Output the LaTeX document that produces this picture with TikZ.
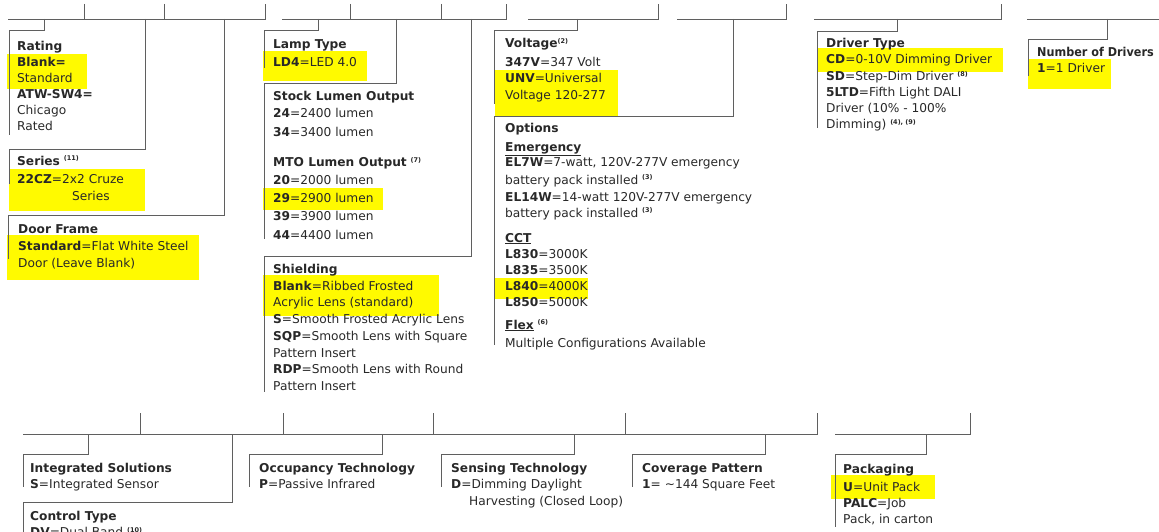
\documentclass[tikz,border=0pt]{standalone}
\usepackage{fontspec}
\setmainfont{DejaVu Sans}
\definecolor{hl}{RGB}{255,250,0}
\definecolor{ln}{RGB}{95,95,95}
\definecolor{tx}{RGB}{40,40,40}
\newcommand\sups[1]{\raisebox{0.6ex}{\fontsize{6.5}{7}\selectfont\bfseries #1}}
\newcommand\mkl[4]{\node[txt] (#1) at (#2,#3) {#4};}
\begin{document}
\begin{tikzpicture}[x=1pt,y=-1pt,
  txt/.style={anchor=base west,inner sep=0pt,font=\fontsize{12.2}{14}\selectfont,text=tx},
  brk/.style={draw=ln,line width=0.9pt},
  hbox/.style={fill=hl}]
\useasboundingbox (0,0) rectangle (1159,532);
% highlights
\fill[hbox] (7,54) rectangle (87,89);
\fill[hbox] (9,169) rectangle (145,211);
\fill[hbox] (7,235) rectangle (199,280);
\fill[hbox] (263,51) rectangle (367,81);
\fill[hbox] (263,188) rectangle (383,210);
\fill[hbox] (263,275) rectangle (439,316);
\fill[hbox] (495,70) rectangle (618,116);
\fill[hbox] (494,278) rectangle (588,299);
\fill[hbox] (817,48) rectangle (1003,72);
\fill[hbox] (1028,59) rectangle (1111,89);
\fill[hbox] (831,475) rectangle (935,499);
% top bars
\draw[brk] (8,19) -- (265,19) -- (265,4);
\draw[brk] (84,4) -- (84,19);
\draw[brk] (164,4) -- (164,19);
\draw[brk] (282,19) -- (506,19) -- (506,4);
\draw[brk] (350,4) -- (350,19);
\draw[brk] (441,4) -- (441,19);
\draw[brk] (528,19) -- (658,19) -- (658,4);
\draw[brk] (677,19) -- (786,19) -- (786,4);
\draw[brk] (814,19) -- (1001,19) -- (1001,4);
\draw[brk] (1027,19) -- (1160,19);
% top drops
\draw[brk] (44,19) -- (44,30) -- (9,30) -- (9,135);
\draw[brk] (145,19) -- (145,149) -- (9,149) -- (9,184);
\draw[brk] (224,19) -- (224,215) -- (8,215) -- (8,259);
\draw[brk] (318,19) -- (318,30) -- (264,30) -- (264,68);
\draw[brk] (396,19) -- (396,83) -- (264,83) -- (264,239);
\draw[brk] (471,19) -- (471,256) -- (264,256) -- (264,392);
\draw[brk] (577,19) -- (577,30) -- (494,30) -- (494,104);
\draw[brk] (733,19) -- (733,116) -- (494,116) -- (494,345);
\draw[brk] (897,19) -- (897,31) -- (817,31) -- (817,128);
\draw[brk] (1107,19) -- (1107,39) -- (1028,39) -- (1028,76);
% bottom bars
\draw[brk] (23,434) -- (817,434) -- (817,413);
\draw[brk] (140,413) -- (140,434);
\draw[brk] (283,413) -- (283,434);
\draw[brk] (433,413) -- (433,434);
\draw[brk] (625,413) -- (625,434);
\draw[brk] (835,434) -- (970,434) -- (970,413);
% bottom drops
\draw[brk] (88,434) -- (88,454) -- (23,454) -- (23,487);
\draw[brk] (232,434) -- (232,502) -- (23,502) -- (23,540);
\draw[brk] (382,434) -- (382,454) -- (249,454) -- (249,487);
\draw[brk] (574,434) -- (574,454) -- (441,454) -- (441,487);
\draw[brk] (765,434) -- (765,454) -- (632,454) -- (632,487);
\draw[brk] (926,434) -- (926,454) -- (835,454) -- (835,527);
% Rating
\mkl{r1}{17}{51}{\textbf{Rating}}
\mkl{r2}{17}{67}{\textbf{Blank=}}
\mkl{r3}{17}{83}{Standard}
\mkl{r4}{17}{99}{\textbf{ATW-SW4=}}
\mkl{r5}{17}{115}{Chicago}
\mkl{r6}{17}{131}{Rated}
% Series
\mkl{s1}{17}{165}{\textbf{Series} \sups{(11)}}
\mkl{s2}{17}{183}{\textbf{22CZ}=2x2 Cruze}
\mkl{s3}{72}{200}{Series}
% Door
\mkl{d1}{18}{233}{\textbf{Door Frame}}
\mkl{d2}{18}{250}{\textbf{Standard}=Flat White Steel}
\mkl{d3}{18}{267}{Door (Leave Blank)}
% Lamp
\mkl{l1}{273}{49}{\textbf{Lamp Type}}
\mkl{l2}{273}{67}{\textbf{LD4}=LED 4.0}
% Stock / MTO
\mkl{k1}{273}{101}{\textbf{Stock Lumen Output}}
\mkl{k2}{273}{118}{\textbf{24}=2400 lumen}
\mkl{k3}{273}{137}{\textbf{34}=3400 lumen}
\mkl{k4}{273}{167}{\textbf{MTO Lumen Output} \sups{(7)}}
\mkl{k5}{273}{184}{\textbf{20}=2000 lumen}
\mkl{k6}{273}{202}{\textbf{29}=2900 lumen}
\mkl{k7}{273}{220}{\textbf{39}=3900 lumen}
\mkl{k8}{273}{239}{\textbf{44}=4400 lumen}
% Shielding
\mkl{h1}{273}{273}{\textbf{Shielding}}
\mkl{h2}{273}{290}{\textbf{Blank}=Ribbed Frosted}
\mkl{h3}{273}{306}{Acrylic Lens (standard)}
\mkl{h4}{273}{323}{\textbf{S}=Smooth Frosted Acrylic Lens}
\mkl{h5}{273}{340}{\textbf{SQP}=Smooth Lens with Square}
\mkl{h6}{273}{357}{Pattern Insert}
\mkl{h7}{273}{373}{\textbf{RDP}=Smooth Lens with Round}
\mkl{h8}{273}{390}{Pattern Insert}
% Voltage
\mkl{v1}{505}{48}{\textbf{Voltage}\sups{(2)}}
\mkl{v2}{505}{67}{\textbf{347V}=347 Volt}
\mkl{v3}{505}{83}{\textbf{UNV}=Universal}
\mkl{v4}{505}{100}{Voltage 120-277}
% Options
\mkl{o1}{505}{132}{\textbf{Options}}
\mkl{o2}{505}{151}{\underline{\textbf{Emergency}}}
\mkl{o3}{505}{167}{\textbf{EL7W}=7-watt, 120V-277V emergency}
\mkl{o4}{505}{184}{battery pack installed \sups{(3)}}
\mkl{o5}{505}{201}{\textbf{EL14W}=14-watt 120V-277V emergency}
\mkl{o6}{505}{217}{battery pack installed \sups{(3)}}
\mkl{o7}{505}{242}{\underline{\textbf{CCT}}}
\mkl{o8}{505}{258}{\textbf{L830}=3000K}
\mkl{o9}{505}{274}{\textbf{L835}=3500K}
\mkl{o10}{505}{290}{\textbf{L840}=4000K}
\mkl{o11}{505}{306}{\textbf{L850}=5000K}
\mkl{o12}{505}{329}{\underline{\textbf{Flex}} \sups{(6)}}
\mkl{o13}{505}{347}{Multiple Configurations Available}
% Driver
\mkl{t1}{826}{48}{\textbf{Driver Type}}
\mkl{t2}{826}{64}{\textbf{CD}=0-10V Dimming Driver}
\mkl{t3}{826}{81}{\textbf{SD}=Step-Dim Driver \sups{(8)}}
\mkl{t4}{826}{97}{\textbf{5LTD}=Fifth Light DALI}
\mkl{t5}{826}{113}{Driver (10\% - 100\%}
\mkl{t6}{826}{129}{Dimming) \sups{(4), (9)}}
% Number of drivers
\mkl{n1}{1037}{57}{\scalebox{0.92}[1]{\textbf{Number of Drivers}}}
\mkl{n2}{1037}{73}{\textbf{1}=1 Driver}
% Bottom row
\mkl{i1}{30}{472}{\textbf{Integrated Solutions}}
\mkl{i2}{30}{488}{\textbf{S}=Integrated Sensor}
\mkl{c1}{30}{520}{\textbf{Control Type}}
\mkl{c2}{30}{536}{\textbf{DV}=Dual Band \sups{(10)}}
\mkl{p1}{259}{472}{\textbf{Occupancy Technology}}
\mkl{p2}{259}{488}{\textbf{P}=Passive Infrared}
\mkl{e1}{451}{472}{\textbf{Sensing Technology}}
\mkl{e2}{451}{488}{\textbf{D}=Dimming Daylight}
\mkl{e3}{469}{505}{Harvesting (Closed Loop)}
\mkl{g1}{642}{472}{\textbf{Coverage Pattern}}
\mkl{g2}{642}{488}{\textbf{1}= \textasciitilde144 Square Feet}
\mkl{q1}{843}{473}{\textbf{Packaging}}
\mkl{q2}{843}{491}{\textbf{U}=Unit Pack}
\mkl{q3}{843}{507}{\textbf{PALC}=Job}
\mkl{q4}{843}{523}{Pack, in carton}
\end{tikzpicture}
\end{document}
